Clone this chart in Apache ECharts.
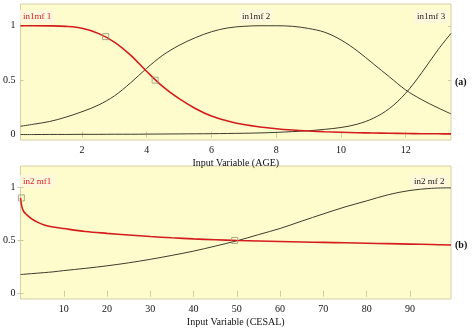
<!DOCTYPE html>
<html>
<head>
<meta charset="utf-8">
<script src="https://cdn.jsdelivr.net/npm/echarts@6/dist/echarts.min.js"></script>
<style>
  html, body { margin: 0; padding: 0; background: #fff; }
  #main { width: 474px; height: 328px; }
</style>
</head>
<body>
<div id="main"></div>
<script>
// panel (a): AGE membership functions
let ageX = [0.1, 0.5, 1, 1.5, 2, 2.5, 3, 3.5, 4, 4.5, 5, 5.5, 6, 6.5, 7, 7.5, 8, 8.5, 9, 9.5, 10, 10.5, 11, 11.5, 12, 12.5, 13, 13.4];
let in1mf1 = [1.0, 1.0, 0.999, 0.994, 0.977, 0.93, 0.85, 0.73, 0.58, 0.44, 0.33, 0.24, 0.17, 0.125, 0.092, 0.07, 0.054, 0.042, 0.033, 0.026, 0.021, 0.017, 0.014, 0.012, 0.01, 0.008, 0.007, 0.006];
let in1mf2 = [0.076, 0.095, 0.12, 0.16, 0.21, 0.27, 0.355, 0.475, 0.61, 0.73, 0.82, 0.89, 0.945, 0.98, 0.995, 1.0, 1.0, 0.995, 0.975, 0.94, 0.87, 0.77, 0.65, 0.53, 0.41, 0.32, 0.245, 0.19];
let in1mf3 = [0.0, 0.0, 0.001, 0.001, 0.002, 0.002, 0.003, 0.003, 0.004, 0.005, 0.006, 0.007, 0.008, 0.01, 0.012, 0.015, 0.02, 0.027, 0.035, 0.048, 0.065, 0.095, 0.15, 0.24, 0.38, 0.57, 0.78, 0.93];
let ageMarks = [[2.73, 0.9], [4.26, 0.5]];
let ageTicks = [2, 4, 6, 8, 10, 12];

// panel (b): CESAL membership functions
let cesalX = [0, 0.3, 0.7, 1.5, 2.5, 4, 5.5, 7.5, 10, 15, 20, 25, 30, 35, 40, 45, 50, 55, 60, 65, 70, 75, 80, 85, 90, 95, 99.5];
let in2mf1 = [0.9, 0.82, 0.775, 0.74, 0.705, 0.67, 0.645, 0.627, 0.612, 0.585, 0.567, 0.551, 0.537, 0.525, 0.515, 0.507, 0.5, 0.495, 0.49, 0.486, 0.482, 0.478, 0.474, 0.47, 0.466, 0.462, 0.457];
let in2mf2 = [0.18, 0.181, 0.182, 0.185, 0.188, 0.193, 0.198, 0.205, 0.217, 0.238, 0.262, 0.29, 0.323, 0.36, 0.4, 0.447, 0.497, 0.555, 0.613, 0.682, 0.75, 0.815, 0.872, 0.93, 0.97, 0.99, 0.995];
let cesalMarks = [[0.2, 0.9], [49.5, 0.5]];
let cesalTicks = [10, 20, 30, 40, 50, 60, 70, 80, 90];

let yTicks = [0, 0.5, 1];

const FONT = 'Liberation Serif';
const TICK_COLOR = '#cfc9a0';

function zip(xs, ys) {
  return xs.map(function (x, i) { return [x, ys[i]]; });
}

function xAxisCfg(grid, min, max, ticks, name, pos) {
  let main = pos === 'bottom';
  return {
    type: 'value', gridIndex: grid, position: pos, min: min, max: max,
    name: main ? name : '',
    nameLocation: 'middle', nameGap: 18,
    nameTextStyle: { fontFamily: FONT, fontSize: 10, color: '#111' },
    axisLine: { show: false },
    splitLine: { show: false },
    axisTick: { show: true, inside: true, length: 3, customValues: ticks, lineStyle: { color: TICK_COLOR } },
    axisLabel: { show: main, customValues: ticks, margin: 5, fontFamily: FONT, fontSize: 10, color: '#111' }
  };
}

function yAxisCfg(grid, pos) {
  let main = pos === 'left';
  return {
    type: 'value', gridIndex: grid, position: pos, min: -0.05, max: 1.2,
    axisLine: { show: false },
    splitLine: { show: false },
    axisTick: { show: true, inside: true, length: 3, customValues: yTicks, lineStyle: { color: TICK_COLOR } },
    axisLabel: { show: main, customValues: yTicks, margin: 5, fontFamily: FONT, fontSize: 10, color: '#111' }
  };
}

function curve(name, data, xi, yi, color, width) {
  return {
    name: name, type: 'line', xAxisIndex: xi, yAxisIndex: yi,
    data: data, showSymbol: false, smooth: 0.35,
    lineStyle: { color: color, width: width }, silent: true, z: 3
  };
}

function marks(data, xi, yi) {
  return {
    type: 'scatter', xAxisIndex: xi, yAxisIndex: yi, data: data,
    symbol: 'rect', symbolSize: 6, silent: true, z: 4,
    itemStyle: { color: 'rgba(0,0,0,0)', borderColor: '#9a9470', borderWidth: 1 }
  };
}

function tag(text, x, y, color) {
  return {
    type: 'text', left: x, top: y,
    style: {
      text: text, fill: color, font: '9px "' + FONT + '"',
      backgroundColor: 'rgba(255,246,222,0.9)', padding: [2, 3]
    }
  };
}

let myChart = echarts.init(document.getElementById('main'), null, { renderer: 'canvas' });
let option = {
  animation: false,
  grid: [
    { left: 16, top: 4, width: 435, height: 136, show: true, backgroundColor: '#fefccd', borderColor: '#d6d0a4', borderWidth: 1 },
    { left: 16, top: 166, width: 435, height: 137, show: true, backgroundColor: '#fefccd', borderColor: '#d6d0a4', borderWidth: 1 }
  ],
  xAxis: [
    xAxisCfg(0, 0.1, 13.4, ageTicks, 'Input Variable (AGE)', 'bottom'),
    xAxisCfg(0, 0.1, 13.4, ageTicks, '', 'top'),
    xAxisCfg(1, 0, 99.5, cesalTicks, 'Input Variable (CESAL)', 'bottom'),
    xAxisCfg(1, 0, 99.5, cesalTicks, '', 'top')
  ],
  yAxis: [
    yAxisCfg(0, 'left'),
    yAxisCfg(0, 'right'),
    yAxisCfg(1, 'left'),
    yAxisCfg(1, 'right')
  ],
  series: [
    curve('in1mf 2', zip(ageX, in1mf2), 0, 0, '#3c3c2c', 1),
    curve('in1mf 3', zip(ageX, in1mf3), 0, 0, '#3c3c2c', 1),
    curve('in1mf 1', zip(ageX, in1mf1), 0, 0, '#d41c1c', 1.6),
    marks(ageMarks, 0, 0),
    curve('in2 mf 2', zip(cesalX, in2mf2), 2, 2, '#3c3c2c', 1),
    curve('in2 mf1', zip(cesalX, in2mf1), 2, 2, '#d41c1c', 1.6),
    marks(cesalMarks, 2, 2)
  ],
  graphic: [
    tag('in1mf 1', 20, 10, '#d41c1c'),
    tag('in1mf 2', 239, 10, '#222'),
    tag('in1mf 3', 414, 10, '#222'),
    tag('in2 mf1', 20, 175, '#d41c1c'),
    tag('in2 mf 2', 411, 175, '#222'),
    { type: 'text', left: 455, top: 77, style: { text: '(a)', fill: '#111', font: 'bold 10px "' + FONT + '"' } },
    { type: 'text', left: 455, top: 240, style: { text: '(b)', fill: '#111', font: 'bold 10px "' + FONT + '"' } }
  ]
};
myChart.setOption(option);
</script>
</body>
</html>
